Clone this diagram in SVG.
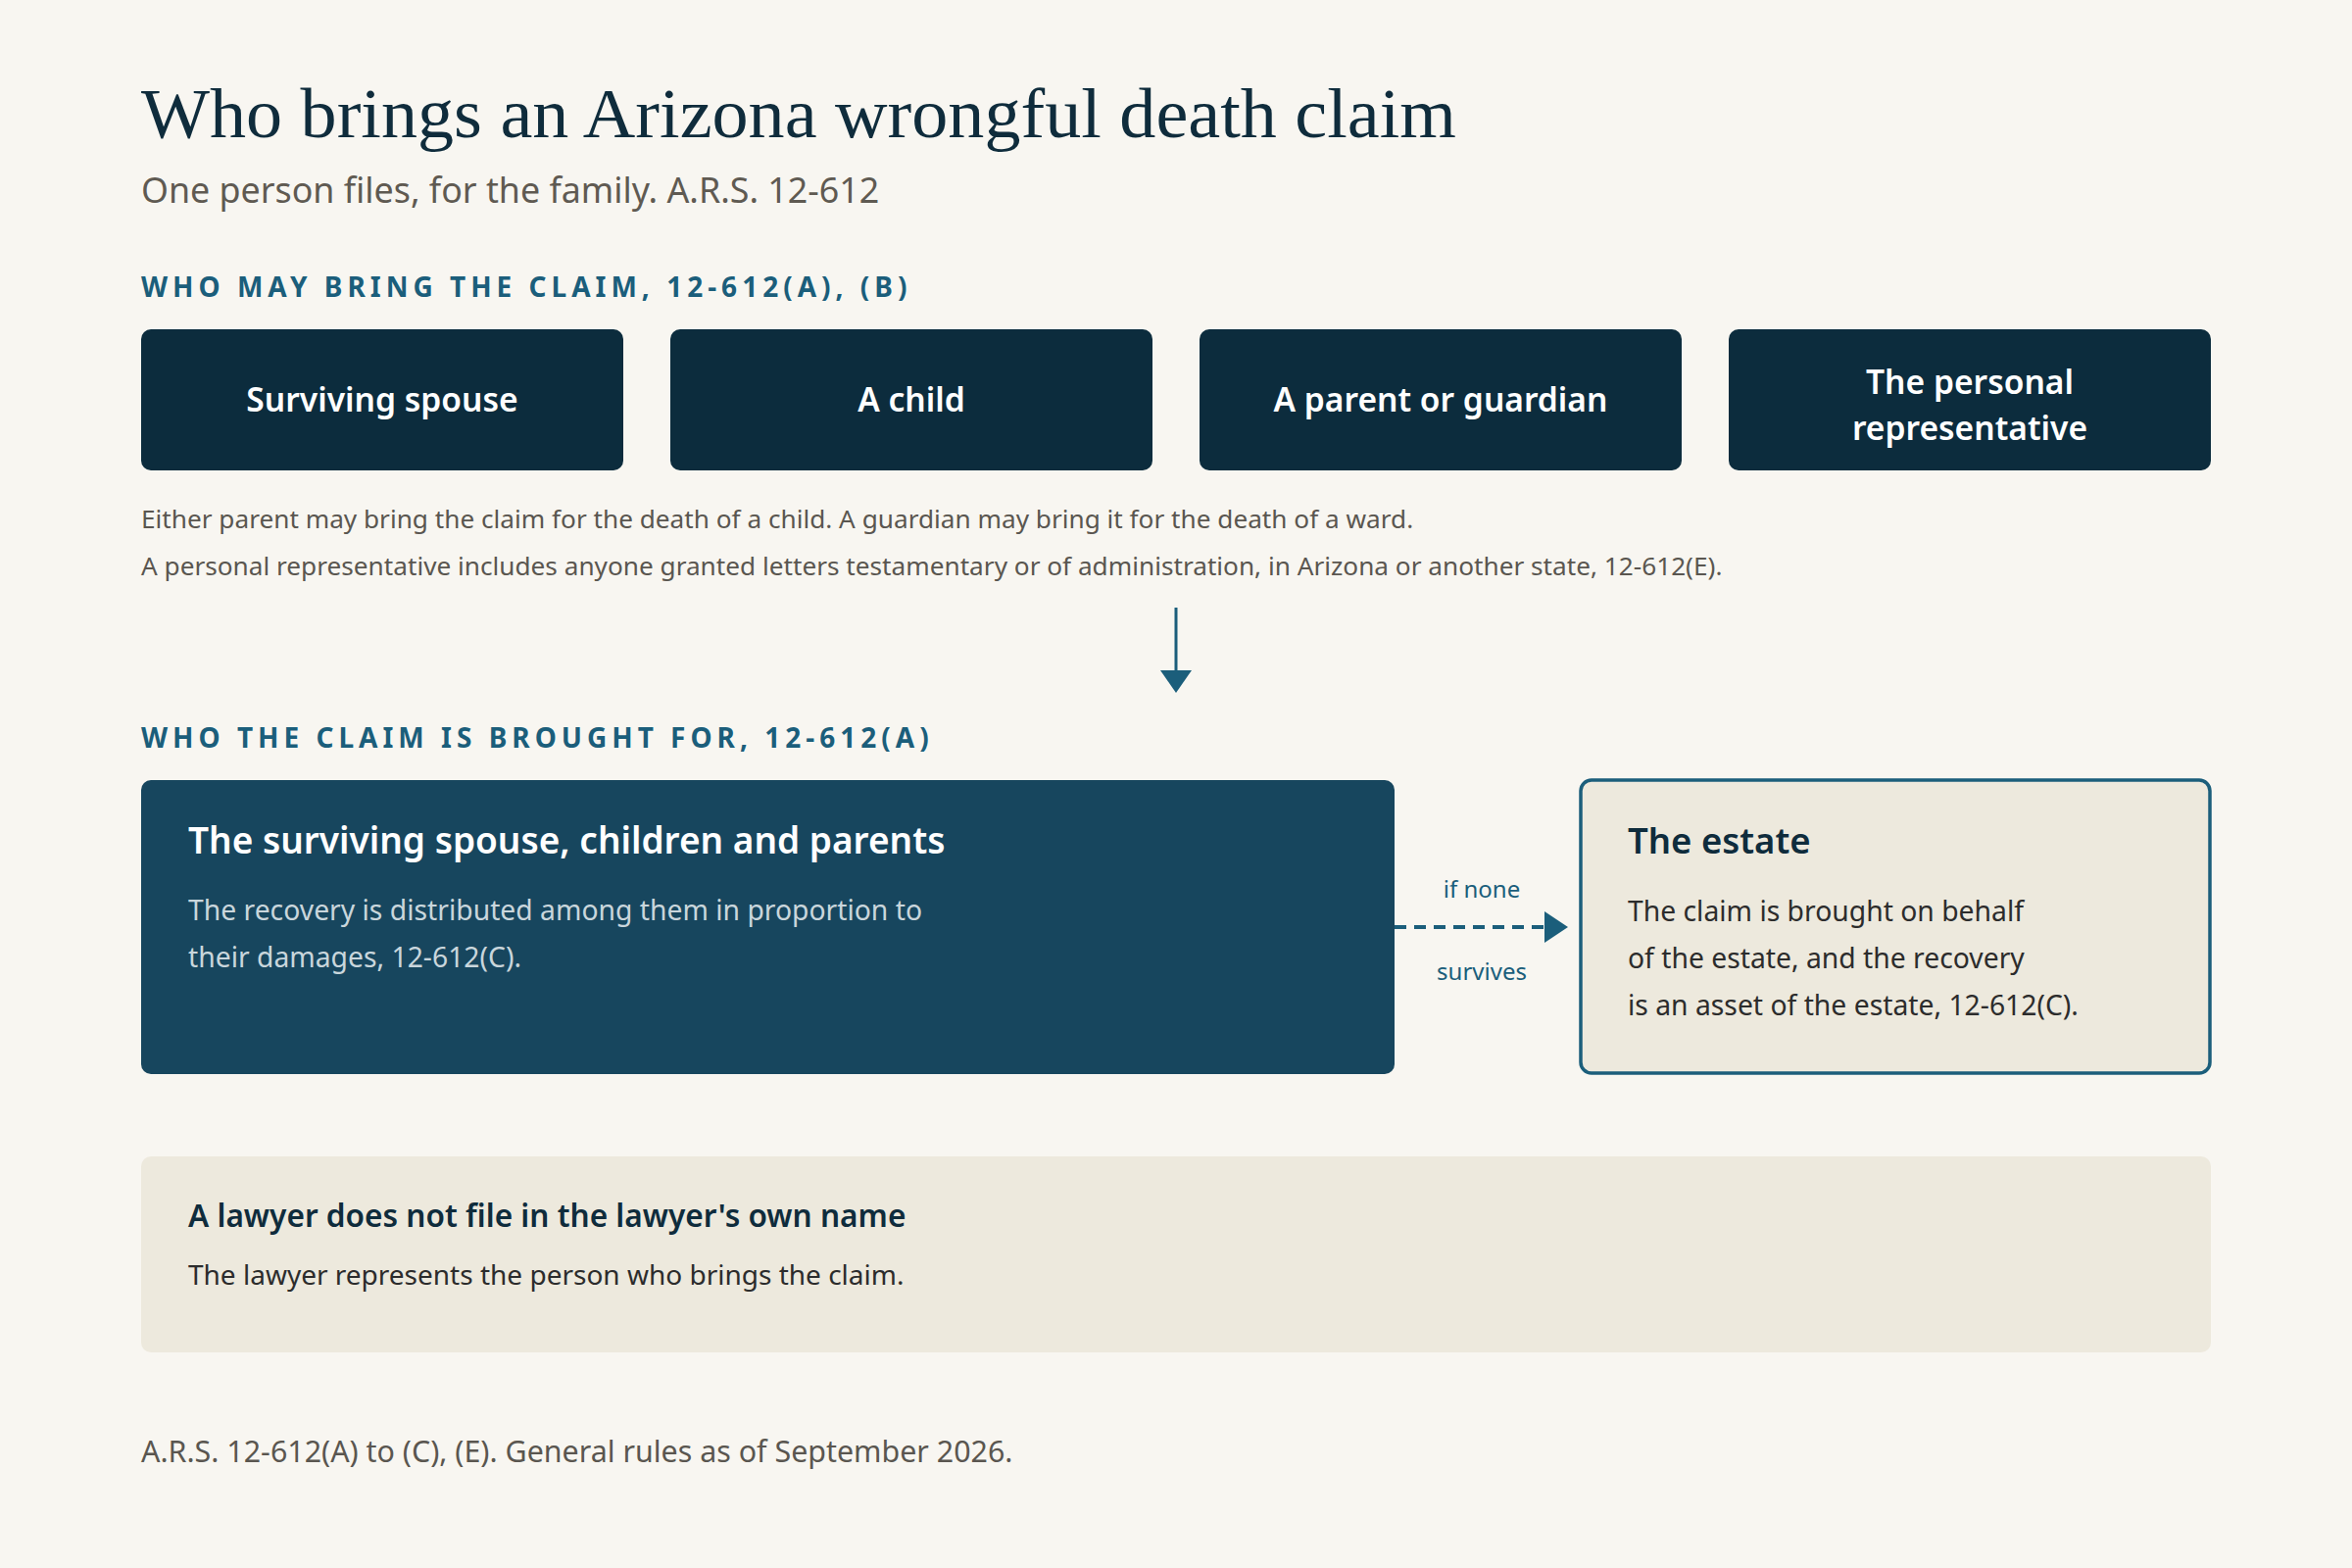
<svg xmlns="http://www.w3.org/2000/svg" width="2400" height="1600" viewBox="0 0 2400 1600">
<defs>
<style>
.sans{font-family:"Noto Sans","Open Sans","Liberation Sans",sans-serif}
.title{font-family:"Liberation Serif","DejaVu Serif",serif;font-size:71px;fill:#0f2c3c}
.sub{font-size:35.8px;fill:#5f5a52}
.sec{font-size:28px;font-weight:700;letter-spacing:5px;fill:#1b5e7b}
.who{fill:#0c2c3d}
.wholbl{font-size:33.6px;font-weight:600;fill:#ffffff;text-anchor:middle}
.note{font-size:26.2px;fill:#5a5650}
.conn{stroke:#1b5e7b;fill:none}
.head{fill:#1b5e7b}
.bigt{font-size:37px;font-weight:600;fill:#ffffff}
.bigb{font-size:28.3px;fill:#c9d6dc}
.estt{font-size:36.5px;font-weight:600;fill:#0f2c3c}
.estb{font-size:28.3px;fill:#2c2c2c}
.lbl{font-size:24px;fill:#1b5e7b;text-anchor:middle}
.lawt{font-size:31.6px;font-weight:600;fill:#0f2c3c}
.lawb{font-size:28px;fill:#2c2c2c}
.foot{font-size:30.4px;fill:#5a5650}
</style>
</defs>
<rect width="2400" height="1600" fill="#f8f6f1"/>
<g id="header">
<text class="title" x="144" y="140" textLength="1342" lengthAdjust="spacingAndGlyphs">Who brings an Arizona wrongful death claim</text>
<text class="sans sub" x="144" y="207">One person files, for the family. A.R.S. 12-612</text>
</g>
<text id="sec1" class="sans sec" x="144" y="303">WHO MAY BRING THE CLAIM, 12-612(A), (B)</text>
<g id="spouse">
<rect class="who" x="144" y="336" width="492" height="144" rx="10"/>
<text class="sans wholbl" x="390" y="420">Surviving spouse</text>
</g>
<g id="child">
<rect class="who" x="684" y="336" width="492" height="144" rx="10"/>
<text class="sans wholbl" x="930" y="420">A child</text>
</g>
<g id="parent">
<rect class="who" x="1224" y="336" width="492" height="144" rx="10"/>
<text class="sans wholbl" x="1470" y="420">A parent or guardian</text>
</g>
<g id="rep">
<rect class="who" x="1764" y="336" width="492" height="144" rx="10"/>
<text class="sans wholbl" x="2010" y="402">The personal</text>
<text class="sans wholbl" x="2010" y="449">representative</text>
</g>
<g id="notes">
<text class="sans note" x="144" y="539">Either parent may bring the claim for the death of a child. A guardian may bring it for the death of a ward.</text>
<text class="sans note" x="144" y="587">A personal representative includes anyone granted letters testamentary or of administration, in Arizona or another state, 12-612(E).</text>
</g>
<text id="sec2" class="sans sec" x="144" y="763">WHO THE CLAIM IS BROUGHT FOR, 12-612(A)</text>
<g id="family">
<rect x="144" y="796" width="1279" height="300" rx="10" fill="#17465e"/>
<text class="sans bigt" x="192" y="871">The surviving spouse, children and parents</text>
<text class="sans bigb" x="192" y="939">The recovery is distributed among them in proportion to</text>
<text class="sans bigb" x="192" y="987">their damages, 12-612(C).</text>
</g>
<g id="estate">
<rect x="1613" y="796" width="642" height="299" rx="11" fill="#ede9dd" stroke="#1b5e7b" stroke-width="3.5"/>
<text class="sans estt" x="1661" y="871">The estate</text>
<text class="sans estb" x="1661" y="940">The claim is brought on behalf</text>
<text class="sans estb" x="1661" y="988">of the estate, and the recovery</text>
<text class="sans estb" x="1661" y="1036">is an asset of the estate, 12-612(C).</text>
</g>
<g id="connectors">
<line class="conn" x1="1200" y1="620" x2="1200" y2="686" stroke-width="3"/>
<polygon class="head" points="1184,684 1216,684 1200,707"/>
<line class="conn" x1="1423" y1="946" x2="1577" y2="946" stroke-width="4" stroke-dasharray="12 8"/>
<polygon class="head" points="1576,930 1576,962 1600,946"/>
<text class="sans lbl" x="1512" y="916">if none</text>
<text class="sans lbl" x="1512" y="1000">survives</text>
</g>
<g id="lawyer">
<rect x="144" y="1180" width="2112" height="200" rx="10" fill="#ede9dd"/>
<text class="sans lawt" x="192" y="1252">A lawyer does not file in the lawyer's own name</text>
<text class="sans lawb" x="192" y="1311">The lawyer represents the person who brings the claim.</text>
</g>
<text id="footer" class="sans foot" x="144" y="1492">A.R.S. 12-612(A) to (C), (E). General rules as of September 2026.</text>
</svg>
